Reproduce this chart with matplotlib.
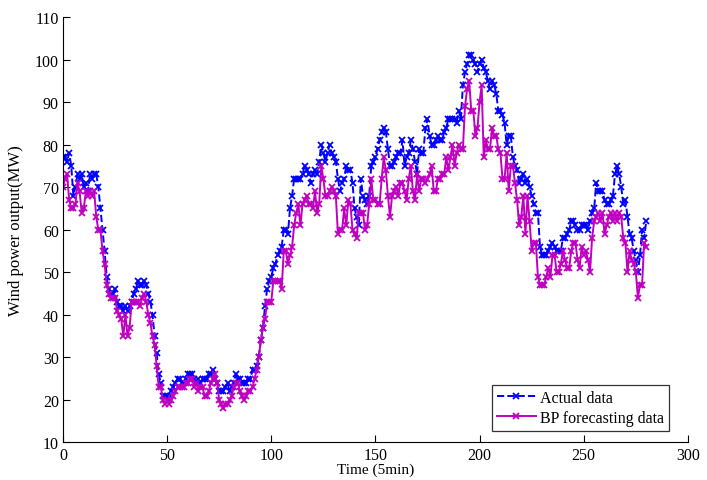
import matplotlib
matplotlib.use("Agg")
import matplotlib.pyplot as plt
import numpy as np

# values, one per 5-min step (0..280)
actual = [
    77, 77, 76, 78, 75, 68, 70, 73, 72, 73,
    70, 71, 69, 73, 72, 73, 73, 70, 65, 60,
    55, 49, 46, 45, 45, 46, 43, 42, 42, 41,
    42, 41, 42, 43, 45, 46, 48, 47, 47, 48,
    47, 45, 43, 40, 35, 31, 26, 24, 21, 21,
    21, 20, 22, 23, 24, 25, 25, 24, 24, 25,
    26, 26, 26, 25, 24, 25, 24, 25, 25, 25,
    26, 26, 27, 25, 24, 22, 22, 22, 23, 24,
    22, 23, 24, 26, 25, 25, 24, 24, 24, 25,
    25, 27, 27, 28, 30, 34, 37, 42, 46, 48,
    49, 51, 52, 54, 55, 56, 60, 60, 59, 65,
    68, 72, 72, 72, 72, 73, 75, 74, 73, 71,
    73, 74, 73, 76, 80, 78, 76, 78, 80, 78,
    77, 76, 72, 69, 71, 72, 75, 74, 74, 71,
    65, 63, 61, 72, 68, 67, 66, 68, 75, 76,
    77, 79, 81, 83, 84, 83, 79, 75, 75, 76,
    77, 78, 78, 81, 75, 77, 78, 81, 79, 76,
    73, 79, 78, 78, 84, 86, 82, 80, 80, 81,
    82, 81, 81, 83, 84, 86, 86, 86, 86, 85,
    88, 86, 94, 97, 99, 101, 101, 100, 99, 97,
    99, 100, 98, 97, 95, 93, 95, 94, 92, 88,
    88, 87, 85, 80, 82, 82, 77, 75, 74, 71,
    72, 73, 71, 72, 70, 68, 66, 64, 64, 56,
    54, 54, 54, 55, 56, 57, 56, 55, 55, 55,
    58, 58, 59, 60, 62, 62, 61, 60, 60, 61,
    61, 61, 60, 62, 64, 65, 71, 69, 69, 69,
    67, 66, 66, 67, 68, 73, 75, 73, 70, 66,
    67, 63, 59, 58, 55, 53, 50, 54, 60, 58, 62,
]

bp_forecast = [
    70, 72, 73, 67, 65, 65, 66, 71, 69, 64,
    65, 69, 68, 69, 68, 69, 63, 60, 60, 55,
    52, 47, 45, 44, 44, 44, 41, 40, 39, 35,
    40, 35, 37, 43, 43, 43, 43, 42, 44, 45,
    43, 40, 38, 35, 33, 28, 23, 23, 20, 19,
    20, 19, 20, 21, 22, 23, 23, 23, 23, 24,
    24, 25, 25, 23, 24, 22, 23, 23, 21, 21,
    22, 24, 25, 26, 24, 20, 19, 18, 19, 19,
    20, 21, 23, 24, 24, 22, 21, 20, 21, 22,
    22, 23, 25, 27, 30, 34, 37, 39, 43, 43,
    43, 48, 48, 48, 48, 46, 55, 55, 52, 54,
    56, 61, 64, 66, 61, 66, 67, 68, 66, 66,
    65, 69, 64, 66, 75, 72, 68, 68, 69, 70,
    69, 68, 59, 60, 60, 65, 61, 67, 66, 60,
    59, 58, 64, 64, 64, 60, 61, 66, 72, 67,
    67, 66, 66, 72, 77, 74, 68, 63, 68, 69,
    70, 68, 71, 71, 69, 67, 72, 75, 69, 67,
    73, 69, 72, 72, 71, 72, 73, 75, 69, 69,
    72, 72, 73, 73, 77, 74, 77, 80, 75, 78,
    80, 79, 79, 89, 93, 95, 88, 88, 82, 84,
    90, 94, 77, 81, 79, 79, 84, 82, 82, 79,
    78, 72, 72, 78, 69, 75, 75, 71, 67, 61,
    63, 68, 59, 68, 62, 55, 57, 57, 49, 47,
    47, 47, 49, 51, 49, 54, 54, 50, 50, 52,
    55, 53, 51, 51, 55, 57, 57, 53, 51, 56,
    54, 55, 53, 50, 58, 62, 63, 64, 62, 64,
    59, 61, 63, 64, 62, 64, 62, 64, 63, 58,
    57, 50, 55, 53, 52, 50, 44, 47, 47, 57, 56,
]

x_ticks = [0, 50, 100, 150, 200, 250, 300]
y_ticks = list(range(10, 111, 10))

plt.rcParams["font.family"] = ["Liberation Serif", "DejaVu Serif"]

t = np.arange(len(actual))
fig = plt.figure(figsize=(7.07, 4.81), dpi=100)
ax = fig.add_axes([0.089, 0.078, 0.884, 0.8846])

ax.plot(t, actual, "--x", color="#0000FF", lw=1.4, ms=3.8, mew=1.3,
        label="Actual data")
ax.plot(t, bp_forecast, "-x", color="#C000C0", lw=1.4, ms=3.8, mew=1.3,
        label="BP forecasting data")

ax.set_xlim(0, 300); ax.set_ylim(10, 110)
ax.set_xticks(x_ticks); ax.set_yticks(y_ticks)
for s in ["top", "right"]:
    ax.spines[s].set_visible(False)
for s in ["left", "bottom"]:
    ax.spines[s].set_linewidth(0.8)
ax.tick_params(direction="in", length=5, width=0.8, labelsize=11.5, pad=3)
ax.set_xlabel("Time (5min)", fontsize=11, labelpad=0)
ax.set_ylabel("Wind power output(MW)", fontsize=12, labelpad=8)

leg = ax.legend(loc="lower right", bbox_to_anchor=(0.97, 0.028), fontsize=11.5,
                frameon=True, fancybox=False, edgecolor="black", numpoints=1,
                handlelength=2.4, borderpad=0.3, labelspacing=0.25,
                handletextpad=0.3, borderaxespad=0)
leg.get_frame().set_linewidth(0.9)

fig.savefig("out.png", dpi=100)
